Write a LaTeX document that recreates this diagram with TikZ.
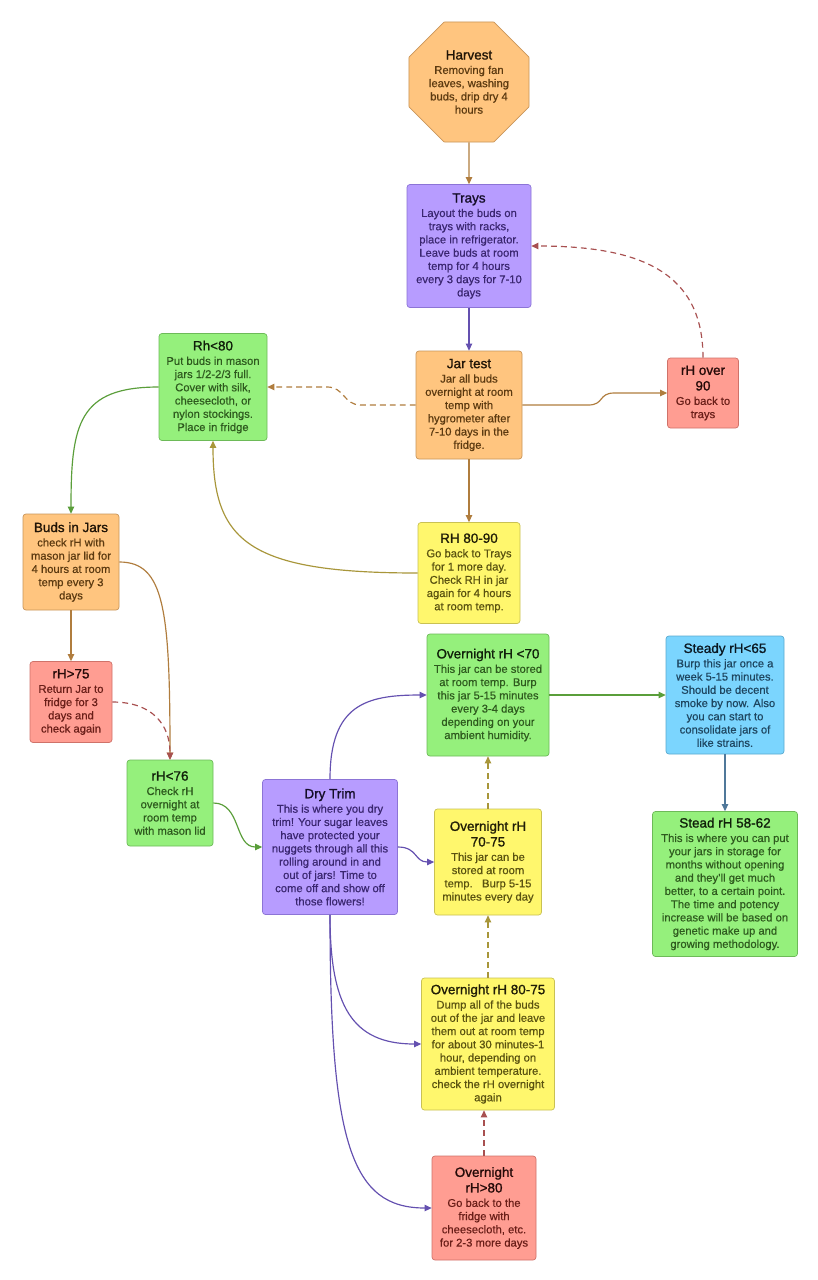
\documentclass[tikz,border=0pt]{standalone}
\usepackage{fontspec}
\setmainfont{Liberation Sans}
\newfontfamily\boxfont{Liberation Sans}[FakeBold=0.5]
\newfontfamily\titlefont{Liberation Sans}[FakeBold=1.1]
\usetikzlibrary{shapes.geometric,arrows.meta,calc}
\definecolor{orfill}{HTML}{FFC57F}\definecolor{orline}{HTML}{C9955A}\definecolor{ortext}{HTML}{5C3A10}
\definecolor{pufill}{HTML}{B79CFF}\definecolor{puline}{HTML}{8C74D6}\definecolor{putext}{HTML}{3A2670}
\definecolor{grfill}{HTML}{95F07C}\definecolor{grline}{HTML}{6DBA58}\definecolor{grtext}{HTML}{2E5A1E}
\definecolor{refill}{HTML}{FF9D92}\definecolor{reline}{HTML}{CF7269}\definecolor{retext}{HTML}{6A1E18}
\definecolor{yefill}{HTML}{FFF76D}\definecolor{yeline}{HTML}{C9C153}\definecolor{yetext}{HTML}{5A5210}
\definecolor{blfill}{HTML}{7BD5FE}\definecolor{blline}{HTML}{5AAAD0}\definecolor{bltext}{HTML}{1E4660}
\definecolor{brownlink}{HTML}{B07D3E}\definecolor{purplelink}{HTML}{6450B0}
\definecolor{greenlink}{HTML}{5A9E3A}\definecolor{redlink}{HTML}{A85050}
\definecolor{goldlink}{HTML}{A8963A}\definecolor{bluelink}{HTML}{50789A}
\newcommand{\boxtitle}[1]{{\titlefont\fontsize{11.5}{13.5}\selectfont\color{.!35!black}#1}}
\tikzset{
% Box styles: one per fill colour
box/.style={draw,rounded corners=2.5pt,align=center,inner sep=0pt,line width=0.6pt,
  font=\boxfont\fontsize{9.6}{11.3}\selectfont},
orange box/.style={box,fill=orfill,draw=orline,text=ortext},
purple box/.style={box,fill=pufill,draw=puline,text=putext},
green box/.style={box,fill=grfill,draw=grline,text=grtext},
red box/.style={box,fill=refill,draw=reline,text=retext},
yellow box/.style={box,fill=yefill,draw=yeline,text=yetext},
blue box/.style={box,fill=blfill,draw=blline,text=bltext},
boxsize/.style 2 args={minimum width=#1*0.03cm,minimum height=#2*0.03cm},
% Connectors
link/.style={line width=1pt,-{Triangle[length=6pt,width=5.5pt]}},
dash link/.style={link,dash pattern=on 5pt off 3.5pt}
}
\begin{document}
\begin{tikzpicture}[x=0.03cm,y=-0.03cm]
        \path[use as bounding box,fill=white] (0,0) rectangle (818,1280);
        % The boxes
        \node(harvest)[orange box,regular polygon,regular polygon sides=8,minimum size=3.9cm,rounded corners=0.5pt] at (469,82)
          {\boxtitle{Harvest}\\[1pt]Removing fan\\leaves, washing\\buds, drip dry 4\\hours};
        \node(trays)[purple box,boxsize={124}{123}] at (469,246)
          {\boxtitle{Trays}\\[1pt]Layout the buds on\\trays with racks,\\place in refrigerator.\\Leave buds at room\\temp for 4 hours\\every 3 days for 7-10\\days};
        \node(jar)[orange box,boxsize={106}{108}] at (469,405)
          {\boxtitle{Jar test}\\[1pt]Jar all buds\\overnight at room\\temp with\\hygrometer after\\7-10 days in the\\fridge.};
        \node(over90)[red box,boxsize={71}{70}] at (703,393)
          {\boxtitle{rH over}\\[2pt]\boxtitle{90}\\[1pt]Go back to\\trays};
        \node(rh80)[green box,boxsize={108}{107}] at (213,387)
          {\boxtitle{Rh<80}\\[1pt]Put buds in mason\\jars 1/2-2/3 full.\\Cover with silk,\\cheesecloth, or\\nylon stockings.\\Place in fridge};
        \node(budsjars)[orange box,boxsize={96}{96}] at (71,562)
          {\boxtitle{Buds in Jars}\\[1pt]check rH with\\mason jar lid for\\4 hours at room\\temp every 3\\days};
        \node(rh8090)[yellow box,boxsize={102}{101}] at (469,573)
          {\boxtitle{RH 80-90}\\[1pt]Go back to Trays\\for 1 more day.\\Check RH in jar\\again for 4 hours\\at room temp.};
        \node(rh75)[red box,boxsize={82}{81}] at (71,702)
          {\boxtitle{rH>75}\\[1pt]Return Jar to\\fridge for 3\\days and\\check again};
        \node(rh76)[green box,boxsize={86}{86}] at (170,803)
          {\boxtitle{rH<76}\\[1pt]Check rH\\overnight at\\room temp\\with mason lid};
        \node(drytrim)[purple box,boxsize={135}{135}] at (330,847)
          {\boxtitle{Dry Trim}\\[1pt]This is where you dry\\trim! Your sugar leaves\\have protected your\\nuggets through all this\\rolling around in and\\out of jars! Time to\\come off and show off\\those flowers!};
        \node(ovr70)[green box,boxsize={122}{122}] at (488,695)
          {\boxtitle{Overnight rH <70}\\[1pt]This jar can be stored\\at room temp. Burp\\this jar 5-15 minutes\\every 3-4 days\\depending on your\\ambient humidity.};
        \node(steady)[blue box,boxsize={118}{118}] at (725,695)
          {\boxtitle{Steady rH<65}\\[1pt]Burp this jar once a\\week 5-15 minutes.\\Should be decent\\smoke by now. Also\\you can start to\\consolidate jars of\\like strains.};
        \node(ovr7075)[yellow box,boxsize={107}{106}] at (488,862)
          {\boxtitle{Overnight rH}\\[2pt]\boxtitle{70-75}\\[1pt]This jar can be\\stored at room\\temp.\ \ \ Burp 5-15\\minutes every day};
        \node(stead)[green box,boxsize={145}{145}] at (725,884)
          {\boxtitle{Stead rH 58-62}\\[1pt]This is where you can put\\your jars in storage for\\months without opening\\and they’ll get much\\better, to a certain point.\\The time and potency\\increase will be based on\\genetic make up and\\growing methodology.};
        \node(ovr8075)[yellow box,boxsize={133}{132}] at (488,1044)
          {\boxtitle{Overnight rH 80-75}\\[1pt]Dump all of the buds\\out of the jar and leave\\them out at room temp\\for about 30 minutes-1\\hour, depending on\\ambient temperature.\\check the rH overnight\\again};
        \node(ovr80)[red box,boxsize={104}{104}] at (484,1208)
          {\boxtitle{Overnight}\\[2pt]\boxtitle{rH>80}\\[1pt]Go back to the\\fridge with\\cheesecloth, etc.\\for 2-3 more days};
        % The connectors
        \draw[link,brownlink] (harvest.south) -- (trays.north);
        \draw[link,purplelink] (trays.south) -- (jar.north);
        \draw[link,brownlink] (jar.east) -- ++(66,0)
          .. controls +(16,0) and +(-16,0) .. ($(over90.west)+(-53,0)$) -- (over90.west);
        \draw[dash link,redlink] (over90.north) .. controls +(0,-85) and +(110,0) .. (trays.east);
        \draw[dash link,brownlink] (jar.west) -- ++(-55,0)
          .. controls +(-17,0) and +(17,0) .. ($(rh80.east)+(60,0)$) -- (rh80.east);
        \draw[link,brownlink] (jar.south) -- (rh8090.north);
        \draw[link,goldlink] (rh8090.west) .. controls +(-170,0) and +(0,100) .. (rh80.south);
        \draw[link,greenlink] (rh80.west) .. controls +(-80,0) and +(0,-90) .. (budsjars.north);
        \draw[link,brownlink] (budsjars.south) -- (rh75.north);
        \draw[link,brownlink] (budsjars.east) .. controls +(45,0) and +(0,-150) .. (rh76.north);
        \draw[dash link,redlink] (rh75.east) .. controls +(40,0) and +(0,-35) .. (rh76.north);
        \draw[link,greenlink] (rh76.east) .. controls +(28,0) and +(-28,0) .. (drytrim.west);
        \draw[link,purplelink] (drytrim.north) .. controls +(0,-75) and +(-60,0) .. (ovr70.west);
        \draw[link,purplelink] (drytrim.east) .. controls +(20,0) and +(-20,0) .. (ovr7075.west);
        \draw[link,purplelink] (drytrim.south) .. controls +(0,90) and +(-70,0) .. (ovr8075.west);
        \draw[link,purplelink] (drytrim.south) .. controls +(0,230) and +(-80,0) .. (ovr80.west);
        \draw[dash link,redlink] (ovr80.north) -- (ovr80.north |- ovr8075.south);
        \draw[dash link,goldlink] (ovr8075.north) -- (ovr7075.south);
        \draw[dash link,goldlink] (ovr7075.north) -- (ovr70.south);
        \draw[link,greenlink] (ovr70.east) -- (steady.west);
        \draw[link,bluelink] (steady.south) -- (stead.north);
      \end{tikzpicture}
\end{document}
